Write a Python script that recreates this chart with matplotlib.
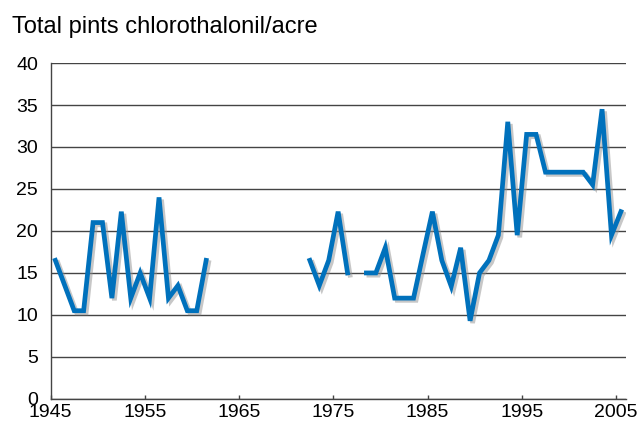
import numpy as np
import matplotlib
matplotlib.use("Agg")
import matplotlib.pyplot as plt
import matplotlib.patheffects as pe

plt.rcParams['font.family'] = ['Liberation Sans', 'DejaVu Sans']

# years with no survey data are left as None -> gaps in the line
years = list(range(1945, 2006))
pints = [16.5, 13.5, 10.5, 10.5, 21.0, 21.0, 12.0, 22.3, 12.0, 15.0,   # 1945-1954
         12.0, 24.0, 12.0, 13.5, 10.5, 10.5, 16.5, None, None, None,   # 1955-1964
         None, None, None, None, None, None, None, 16.5, 13.5, 16.5,   # 1965-1974
         22.3, 15.0, None, 15.0, 15.0, 18.0, 12.0, 12.0, 12.0, 17.2,   # 1975-1984
         22.3, 16.5, 13.4, 18.0, 9.3, 15.0, 16.5, 19.5, 33.0, 19.5,    # 1985-1994
         31.5, 31.5, 27.0, 27.0, 27.0, 27.0, 27.0, 25.5, 34.5, 19.5,   # 1995-2004
         22.3]                                                        # 2005
xticks = [1945, 1955, 1965, 1975, 1985, 1995, 2005]
yticks = [0, 5, 10, 15, 20, 25, 30, 35, 40]

x = np.array(years) + 0.5
y = np.array([np.nan if v is None else v for v in pints], dtype=float)

fig = plt.figure(figsize=(6.41, 4.23), dpi=100)
ax = fig.add_axes([0.079, 0.057, 0.897, 0.794])

for t in yticks:
    ax.axhline(t, color='#444444', lw=1.0, zorder=1)

ax.plot(x, y, color='#0071bc', lw=3.4, solid_joinstyle='miter', zorder=3,
        path_effects=[pe.SimpleLineShadow(offset=(1.8, -1.6), shadow_color='#909090', alpha=0.5),
                      pe.Normal()])

ax.set_xlim(1945, 2006)
ax.set_ylim(0, 40)
ax.set_xticks(xticks)
ax.set_yticks(yticks)
ax.tick_params(axis='x', direction='in', length=3, width=1, color='#444444',
               labelsize=14, pad=4)
ax.tick_params(axis='y', length=0, labelsize=14, pad=9)

for s in ['top', 'right']:
    ax.spines[s].set_visible(False)
for s in ['left', 'bottom']:
    ax.spines[s].set_color('#444444')
    ax.spines[s].set_linewidth(1.0)

fig.text(0.018, 0.922, 'Total pints chlorothalonil/acre', fontsize=17, va='baseline', ha='left')

fig.savefig('out.png', dpi=100)
